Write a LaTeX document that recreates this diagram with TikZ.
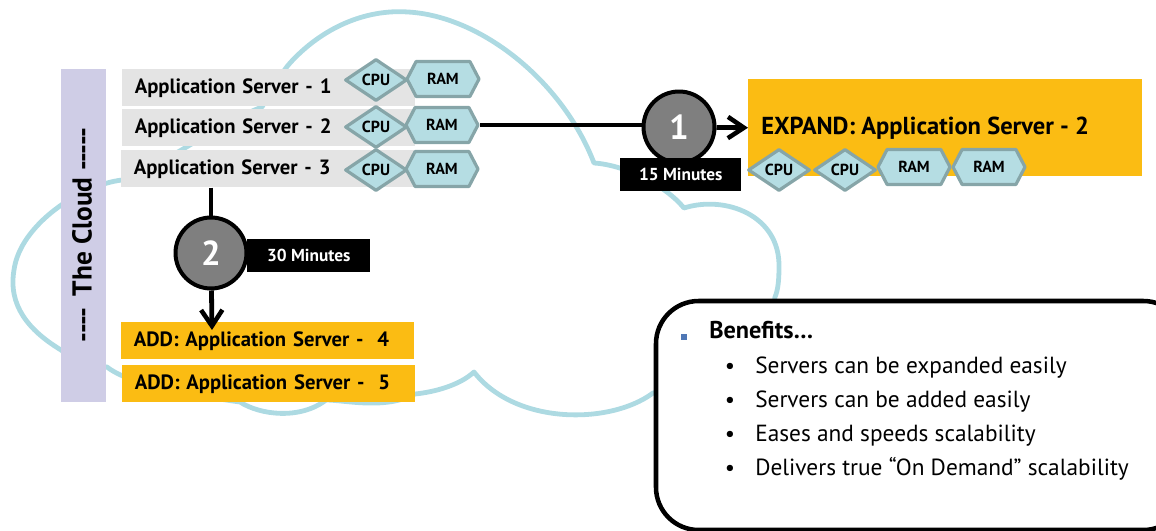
\documentclass[tikz,border=0pt]{standalone}
\usepackage{fontspec}
\setmainfont{PT Sans}
\usetikzlibrary{arrows.meta,shapes.geometric,shapes.symbols}
\def\u{0.75pt}
\definecolor{cloudblue}{HTML}{ADDAE2}
\definecolor{barviolet}{HTML}{CFCDE6}
\definecolor{rowgray}{HTML}{E4E4E4}
\definecolor{addyellow}{HTML}{FBBC13}
\definecolor{chipfill}{HTML}{B5DDE3}
\definecolor{chipline}{HTML}{86A5A8}
\definecolor{stepgray}{HTML}{7F7F7F}
\definecolor{markblue}{HTML}{4F77B5}
\tikzset{
  rowbox/.style={anchor=north west,minimum width=293*\u,minimum height=37*\u,inner xsep=12.5*\u,inner ysep=0pt,
    text width=268*\u,align=left,text height=11.6pt,text depth=3pt,font=\fontsize{15.5}{17}\selectfont\bfseries},
  cpuchip/.style={diamond,draw=chipline,fill=chipfill,line width=2.4pt,inner sep=0pt,minimum width=62*\u,minimum height=42*\u,
    font=\fontsize{12}{13}\selectfont\bfseries},
  ramchip/.style={signal,signal to=west and east,signal pointer angle=125,draw=chipline,fill=chipfill,line width=2.4pt,inner sep=0pt,
    minimum width=72*\u,minimum height=35*\u,font=\fontsize{12}{13}\selectfont\bfseries},
  stepcircle/.style={circle,draw=black,fill=stepgray,line width=3pt,minimum size=71*\u,inner sep=0pt,text=white,
    font=\fontsize{26}{28}\selectfont\bfseries},
  timebox/.style={fill=black,text=white,minimum height=33*\u,inner sep=0pt,font=\fontsize{13}{15}\selectfont\bfseries},
  conn/.style={line width=3.6pt,black},
  listtext/.style={anchor=base west,inner sep=0pt,font=\fontsize{17.5}{20}\selectfont},
}
\begin{document}
\begin{tikzpicture}[x=0.75pt,y=-0.75pt,line join=round,>={Straight Barb[length=12pt,width=16pt,line width=3.4pt]}]
\useasboundingbox (0,0) rectangle (1156,531);
\clip (0,0) rectangle (1156,531);
% cloud
\draw[cloudblue,line width=3.6pt,line cap=round] (262,107)
  .. controls (275,85) and (282,72) .. (290,63)
  .. controls (322,28) and (365,9) .. (408,12)
  .. controls (480,16) and (562,80) .. (594,163)
  .. controls (625,165) and (665,185) .. (684,208)
  .. controls (725,195) and (780,215) .. (779,267)
  .. controls (779,280) and (778,290) .. (775,297)
  .. controls (770,340) and (700,385) .. (653,393)
  .. controls (610,425) and (515,425) .. (474,372)
  .. controls (460,385) and (435,392) .. (415,394)
  .. controls (385,410) and (345,400) .. (326,400)
  .. controls (300,420) and (260,415) .. (240,402)
  .. controls (190,395) and (130,385) .. (107,367)
  .. controls (85,365) and (70,358) .. (61,350)
  .. controls (28,330) and (8,305) .. (14,270)
  .. controls (20,225) and (80,185) .. (122,180)
  .. controls (165,165) and (215,125) .. (262,107);
% left bar
\node[fill=barviolet,minimum width=45*\u,minimum height=333*\u,inner sep=0pt,anchor=north west] (cloudbar) at (61,69) {};
\node[rotate=90,inner sep=0pt,font=\fontsize{20.5}{22}\selectfont\bfseries] (cloudlabel) at (82,235) {-{}-{}-{}- \,The Cloud -{}-{}-{}-{}-};
% servers
\node[rowbox,fill=rowgray] (server1) at (122,69) {Application Server - 1};
\node[rowbox,fill=rowgray] (server2) at (122,109) {Application Server - 2};
\node[rowbox,fill=rowgray] (server3) at (121,150) {Application Server - 3};
\foreach \i/\yc/\xr/\yr in {1/80/443/79,2/127/442/125,3/170/442/169}{
  \node[cpuchip] (cpu\i) at (376,\yc) {CPU};
  \node[ramchip] (ram\i) at (\xr,\yr) {RAM};
}
% expand
\node[fill=addyellow,minimum width=394*\u,minimum height=97*\u,inner sep=0pt,anchor=north west] (expandbox) at (748,79) {};
\node[anchor=west,inner sep=0pt,font=\fontsize{18.4}{20}\selectfont\bfseries] (expandtext) at (761,128) {EXPAND: Application Server - 2};
\foreach \i/\xc in {a/779,b/845}{
  \node[cpuchip] (cpu\i) at (\xc,170) {CPU};
}
\foreach \i/\xc in {a/914,b/989}{
  \node[ramchip] (ram\i) at (\xc,167) {RAM};
}
\node[stepcircle] (one) at (679,127) {1};
\node[timebox,minimum width=121*\u,anchor=north west] (fifteen) at (620,158) {15 Minutes};
\draw[conn] (ram2.east) -- (ram2.east -| one.west);
\draw[conn,->] (one) -- (expandbox.west);
% add
\node[rowbox,fill=addyellow] (add4) at (121,322) {ADD: Application Server -\ \ 4};
\node[rowbox,fill=addyellow] (add5) at (122,365) {ADD: Application Server -\ \ 5};
\coordinate (addtip) at (212,330);
\node[timebox,minimum width=123*\u,anchor=north west] (thirty) at (247,239) {30 Minutes};
\node[stepcircle] (two) at (211,253) {2};
\draw[conn] (server3.south -| two) -- (two);
\draw[conn,->] (two) -- (addtip);
% benefits
\node[draw=black,fill=white,line width=3.4pt,rounded corners=32pt,outer sep=0pt,anchor=north west,minimum width=530*\u,minimum height=229*\u] (benefitbox) at (656,301) {};
\node[fill=markblue,minimum size=5pt,inner sep=0pt] (benefitmark) at (684,337) {};
\node[listtext,font=\fontsize{18.2}{20}\selectfont\bfseries] (benefit) at (709,338) {Benefits…};
\foreach \i/\yb/\t in {1/373/Servers can be expanded easily,2/407/Servers can be added easily,3/441/Eases and speeds scalability,4/475/Delivers true “On Demand” scalability}{
  \node[anchor=base,inner sep=0pt,font=\fontsize{17}{20}\selectfont] (dot\i) at (730,\yb) {•};
  \node[listtext] (item\i) at (755,\yb) {\t};
}
\end{tikzpicture}
\end{document}
